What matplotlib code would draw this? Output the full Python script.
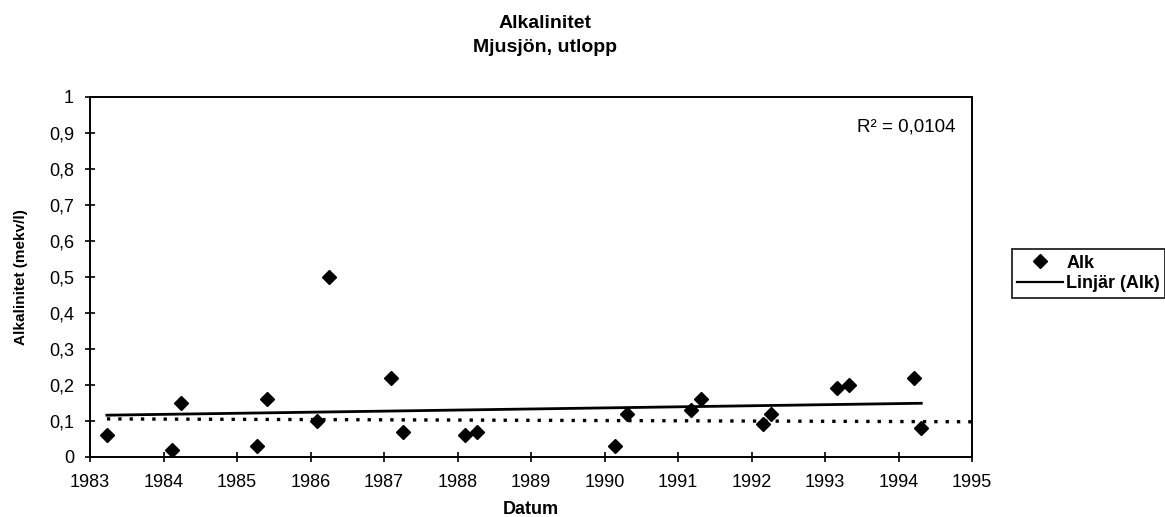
import numpy as np
import matplotlib
matplotlib.use("Agg")
import matplotlib.pyplot as plt
from matplotlib.ticker import FuncFormatter, MultipleLocator
from matplotlib.lines import Line2D

plt.rcParams['font.family'] = ['Liberation Sans', 'DejaVu Sans']

# sampling dates (decimal years) and alkalinity (mekv/l)
datum = [1983.23, 1984.12, 1984.24, 1985.27, 1985.41, 1986.09, 1986.25,
         1987.10, 1987.26, 1988.10, 1988.26, 1990.14, 1990.31, 1991.18,
         1991.31, 1992.15, 1992.27, 1993.17, 1993.32, 1994.21, 1994.31]
alk = [0.06, 0.02, 0.15, 0.03, 0.16, 0.10, 0.50,
       0.22, 0.07, 0.06, 0.07, 0.03, 0.12, 0.13,
       0.16, 0.09, 0.12, 0.19, 0.20, 0.22, 0.08]

# dotted reference line
ref_x = [1983.23, 1995.0]
ref_y = [0.105, 0.097]

r2_text = "R² = 0,0104"

fig = plt.figure(figsize=(11.65, 5.17), dpi=100)
ax = fig.add_axes([90/1165, 1 - 456.7/517, 882/1165, 360/517])

ax.plot(datum, alk, linestyle='none', marker='D', markersize=7,
        color='black', label='Alk')

k, m = np.polyfit(datum, alk, 1)
xs = np.array([datum[0], datum[-1]])
ax.plot(xs, k*xs + m, color='black', lw=2, label='Linjär (Alk)')

ax.plot(ref_x, ref_y, color='black', lw=2.4, linestyle=(0, (1, 2.4)))

ax.set_xlim(1983, 1995)
ax.set_ylim(0, 1)
ax.xaxis.set_major_locator(MultipleLocator(1))
ax.yaxis.set_major_locator(MultipleLocator(0.1))
ax.xaxis.set_major_formatter(FuncFormatter(lambda v, p: f"{int(round(v))}"))
ax.yaxis.set_major_formatter(
    FuncFormatter(lambda v, p: f"{round(v, 1):g}".replace('.', ',')))
ax.tick_params(direction='inout', length=7, width=1.2, labelsize=13,
               colors='black')
ax.tick_params(axis='x', pad=9)
ax.tick_params(axis='y', pad=8)
for s in ax.spines.values():
    s.set_linewidth(1.4)
    s.set_color('black')

ax.text(1994.77, 0.916, r2_text, ha='right', va='center', fontsize=13.5)

fig.text(545/1165, 1 - 24/517, "Alkalinitet", ha='center', va='center',
         fontsize=14, fontweight='bold')
fig.text(545/1165, 1 - 47/517, "Mjusjön, utlopp", ha='center', va='center',
         fontsize=14, fontweight='bold')
fig.text(531/1165, 1 - 509/517, "Datum", ha='center', va='center',
         fontsize=13, fontweight='bold')
fig.text(21/1165, 1 - 277/517, "Alkalinitet (mekv/l)", ha='center',
         va='center', rotation=90, fontsize=11, fontweight='bold')

handles = [Line2D([], [], linestyle='none', marker='D', markersize=7,
                  color='black'),
           Line2D([], [], color='black', lw=1.6)]
leg = fig.legend(handles, ['Alk', 'Linjär (Alk)'], loc='center left',
                 bbox_to_anchor=(1012/1165, 1 - 273.5/517), fontsize=13,
                 frameon=True, fancybox=False, edgecolor='black',
                 handlelength=2.5, handletextpad=0.2, borderpad=0.3,
                 borderaxespad=0, labelspacing=0.2)
leg.get_frame().set_linewidth(1.4)
for t in leg.get_texts():
    t.set_fontweight('bold')

fig.savefig("out.png", dpi=100)
